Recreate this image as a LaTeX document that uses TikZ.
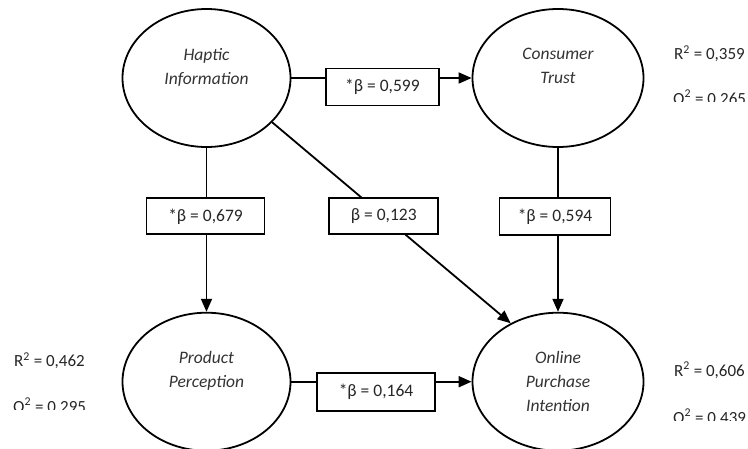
\documentclass[tikz,border=0pt]{standalone}
\usepackage{fontspec}
\setmainfont{Carlito}
\usetikzlibrary{arrows.meta,shapes.geometric}
\tikzset{
  construct/.style={draw, ellipse, line width=1.8pt, inner sep=0pt, align=center,
    font=\itshape\fontsize{17.5}{24}\selectfont, text=black!80},
  coefbox/.style={draw, fill=white, line width=1.8pt, inner sep=0pt,
    font=\fontsize{17.5}{20}\selectfont, text=black!85},
  arr/.style={line width=1.8pt, -{Triangle[length=13pt,width=11pt]}},
  stat/.style={anchor=base west, inner sep=0pt, font=\fontsize{17}{20}\selectfont, text=black!85}
}
\begin{document}
\begin{tikzpicture}[x=1pt,y=-1pt]
\useasboundingbox (0,0) rectangle (748,448);
\fill[white] (0,0) rectangle (748,448);
\clip (0,0) rectangle (748,448);

% constructs
\node[construct, minimum width=168pt, minimum height=138pt] (H) at (206.5,78) {Haptic\\Information\\~};
\node[construct, minimum width=171pt, minimum height=138pt] (C) at (558,78) {Consumer\\Trust\\~};
\node[construct, minimum width=168pt, minimum height=138pt] (P) at (206.5,381.7) {Product\\Perception\\~};
\node[construct, minimum width=171pt, minimum height=138pt] (O) at (558,381.7) {Online\\Purchase\\Intention};

% connectors
\draw[arr] (H.east) -- (C.west);
\draw[arr] (H.south) -- (P.north);
\draw[arr] (C.south) -- (O.north);
\draw[arr] (P.east) -- (O.west);
\draw[arr] (H.-34) -- (O.129.5);

% coefficient boxes
\node[coefbox, minimum width=113pt, minimum height=37pt] (b1) at (382.4,87) {*β = 0,599};
\node[coefbox, minimum width=118pt, minimum height=36pt] (b2) at (205.5,216.3) {*β = 0,679};
\node[coefbox, minimum width=109pt, minimum height=36pt] (b3) at (383.8,216.3) {β = 0,123};
\node[coefbox, minimum width=111pt, minimum height=37pt] (b4) at (555,216.5) {*β = 0,594};
\node[coefbox, minimum width=118pt, minimum height=38pt] (b5) at (376,391.7) {*β = 0,164};

% statistics
\node[stat] (rC) at (674,59.3) {R\textsuperscript{2} = 0,359};
\begin{scope}
\clip (660,0) rectangle (748,101);
\node[stat] (qC) at (673,104) {Q\textsuperscript{2} = 0,265};
\end{scope}

\node[stat] (rP) at (14,366.7) {R\textsuperscript{2} = 0,462};
\begin{scope}
\clip (0,380) rectangle (110,409.5);
\node[stat] (qP) at (13,412) {Q\textsuperscript{2} = 0,295};
\end{scope}

\node[stat] (rO) at (674,376) {R\textsuperscript{2} = 0,606};
\begin{scope}
\clip (660,390) rectangle (748,420);
\node[stat] (qO) at (673,423) {Q\textsuperscript{2} = 0,439};
\end{scope}
\end{tikzpicture}
\end{document}
